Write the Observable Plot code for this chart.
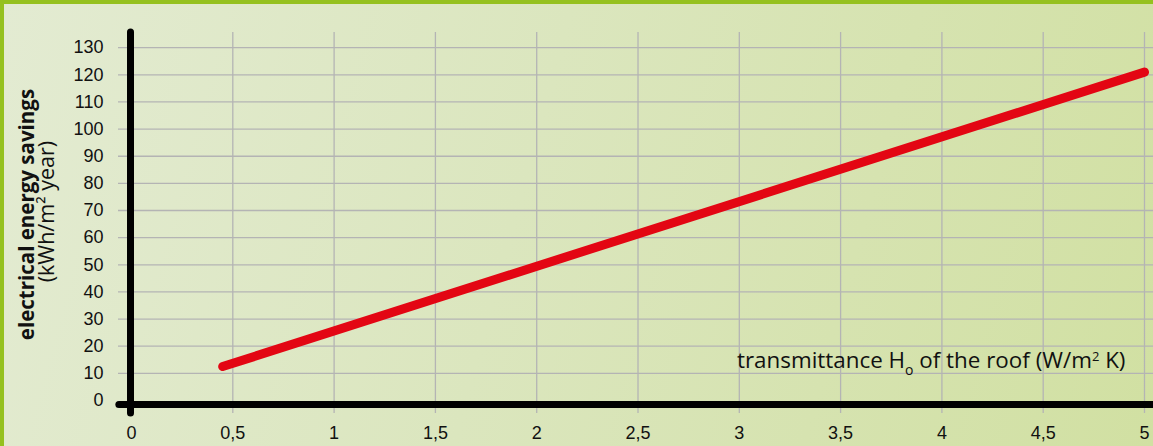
<!DOCTYPE html>
<html><head><meta charset="utf-8">
<script src="https://cdn.jsdelivr.net/npm/d3@7"></script>
<script src="https://cdn.jsdelivr.net/npm/@observablehq/plot@0.6"></script>
<style>
body{margin:0;background:#fff;}
#wrap{position:relative;width:1153px;height:446px;overflow:hidden;
  background:linear-gradient(105deg,#e3ebd2 0%,#dbe6be 45%,#d1e0a2 100%);
  box-shadow: inset 4px 4px 0 #95c11f;}
#wrap svg{position:absolute;left:0;top:0;}
</style></head><body><div id="wrap"></div>
<script>
// data
const transmittance = [0.45, 5];
const savings = [12.5, 121];
const xTicks = [0, 0.5, 1, 1.5, 2, 2.5, 3, 3.5, 4, 4.5, 5];
const yTicks = [0, 10, 20, 30, 40, 50, 60, 70, 80, 90, 100, 110, 120, 130];
const xTitle = "transmittance Ho of the roof (W/m2 K)";
const yTitle1 = "electrical energy savings";
const yTitle2 = "(kWh/m\u00b2 year)";

const data = transmittance.map((x, i) => ({x, y: savings[i]}));
const fmt = d => String(d).replace(".", ",");
const xDom = [-0.0642, 5.0444];
const yDom = [-4.8, 135.6];
const titleFont = "'Open Sans', 'Noto Sans', sans-serif";

const plot = Plot.plot({
  width: 1153, height: 446,
  marginLeft: 118, marginRight: 0, marginTop: 32, marginBottom: 33,
  style: {background: "transparent", fontFamily: "'Liberation Sans', Arial, sans-serif", fontSize: "18px", color: "#111", overflow: "visible"},
  x: {domain: xDom, axis: null},
  y: {domain: yDom, axis: null},
  marks: [
    Plot.ruleY(yTicks.filter(d => d > 0), {stroke: "#b4b4b4", strokeWidth: 1.3}),
    Plot.ruleX(xTicks.filter(d => d > 0), {stroke: "#b4b4b4", strokeWidth: 1.3}),
    Plot.axisY(yTicks, {anchor: "left", tickSize: 0, tickPadding: 15, fontSize: 18, fill: "#111", label: null}),
    Plot.axisX(xTicks, {anchor: "bottom", tickSize: 0, tickPadding: 13, fontSize: 18, fill: "#111", tickFormat: fmt, label: null}),
    Plot.ruleX([0], {stroke: "#000", strokeWidth: 7, strokeLinecap: "round", dx: -1}),
    Plot.ruleY([-1.5], {x1: -0.06, x2: xDom[1] + 0.05, stroke: "#000", strokeWidth: 7, strokeLinecap: "round"}),
    Plot.line(data, {x: "x", y: "y", stroke: "#e30613", strokeWidth: 9, strokeLinecap: "round"}),
    Plot.text([{x: 4.906, y: 14.6, t: xTitle}], {x: "x", y: "y", text: "t", textAnchor: "end", fontSize: 22.4, fontFamily: titleFont, fill: "#111"}),
    Plot.text([{x: -0.513, y: 68.5, t: yTitle1}], {x: "x", y: "y", text: "t", rotate: -90, fontSize: 20.5, fontWeight: "bold", fontFamily: titleFont, fill: "#111"}),
    Plot.text([{x: -0.4146, y: 69.6, t: yTitle2}], {x: "x", y: "y", text: "t", rotate: -90, fontSize: 21.5, fontFamily: titleFont, fill: "#111"})
  ]
});
document.getElementById("wrap").appendChild(plot);

// subscript / superscript in the x title
d3.select(plot).selectAll("text").filter(function() { return this.textContent === xTitle; }).each(function() {
  const t = d3.select(this);
  t.text(null);
  t.append("tspan").text("transmittance H");
  t.append("tspan").attr("dy", "7").attr("font-size", "14").text("o");
  t.append("tspan").attr("dy", "-7").text(" of the roof (W/m");
  t.append("tspan").attr("dy", "-7").attr("font-size", "13").text("2");
  t.append("tspan").attr("dy", "7").text(" K)");
});
</script>
</body></html>
